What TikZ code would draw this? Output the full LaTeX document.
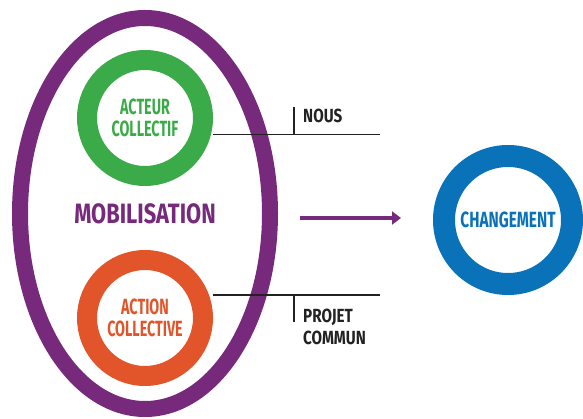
\documentclass[tikz,border=0pt]{standalone}
\usepackage{fontspec}
\setmainfont{Fira Sans}
\newfontfamily\ringfont[FakeStretch=0.65]{Fira Sans}
\newfontfamily\chgfont[FakeStretch=0.70]{Fira Sans}
\newfontfamily\mobfont[FakeStretch=0.78]{Fira Sans}
\newfontfamily\tagfont[FakeStretch=0.80]{Fira Sans}
\usetikzlibrary{arrows.meta,positioning}
\definecolor{mobpurple}{HTML}{77297B}
\definecolor{actgreen}{HTML}{3BAA48}
\definecolor{actorange}{HTML}{E2552A}
\definecolor{chgblue}{HTML}{0A72B9}
\definecolor{inkgray}{HTML}{222222}
\tikzset{
    ring/.style={draw, circle, line width=20pt, minimum size=116pt, inner sep=0pt, align=center,
        font=\ringfont\bfseries\fontsize{22}{21.5}\selectfont},
    leader/.style={line width=1.6pt, inkgray},
    tag/.style={anchor=west, inner sep=0pt, align=left, text=inkgray,
        font=\tagfont\bfseries\fontsize{19}{22}\selectfont},
    push/.style={-{Triangle[length=9pt, width=13pt]}, line width=4pt, mobpurple}
}

\begin{document}
\begin{tikzpicture}[x=1pt, y=-1pt]
    \useasboundingbox (0,0) rectangle (583,419);

    % outer frame of the mobilisation
    \draw[mobpurple, line width=16pt] (145,213.5) ellipse [x radius=125, y radius=195.5];

    \node[ring, draw=actgreen, text=actgreen] (acteur) at (145,118) {ACTEUR\\COLLECTIF};
    \node[ring, draw=actorange, text=actorange] (action) at (145,318) {ACTION\\COLLECTIVE};
    \node[text=mobpurple, font=\mobfont\bfseries\fontsize{28}{30}\selectfont] (mob) at (145,214) {MOBILISATION};
    \node[ring, draw=chgblue, text=chgblue, line width=22pt, minimum size=128pt,
        font=\chgfont\bfseries\fontsize{22}{24}\selectfont] (chg) at (508,220) {CHANGEMENT};

    % leader lines to the two labels
    \coordinate (nousend) at (380,134.5);
    \coordinate (projend) at (380,295);
    \draw[leader] (acteur.east |- nousend) -- (nousend);
    \draw[leader] (action.east |- projend) -- (projend);
    \coordinate (noustick) at (294,134.5);
    \coordinate (projtick) at (294,295);
    \draw[leader] (noustick) -- ++(0,-27);
    \draw[leader] (projtick) -- ++(0,27);

    \node[tag] (nous) at (303,116) {NOUS};
    \node[tag] (projet) at (303,326.5) {PROJET\\COMMUN};

    % mobilisation leads to change
    \coordinate (pushstart) at (300,218);
    \coordinate (pushend) at (401,218);
    \draw[push] (pushstart) -- (pushend);
\end{tikzpicture}
\end{document}
